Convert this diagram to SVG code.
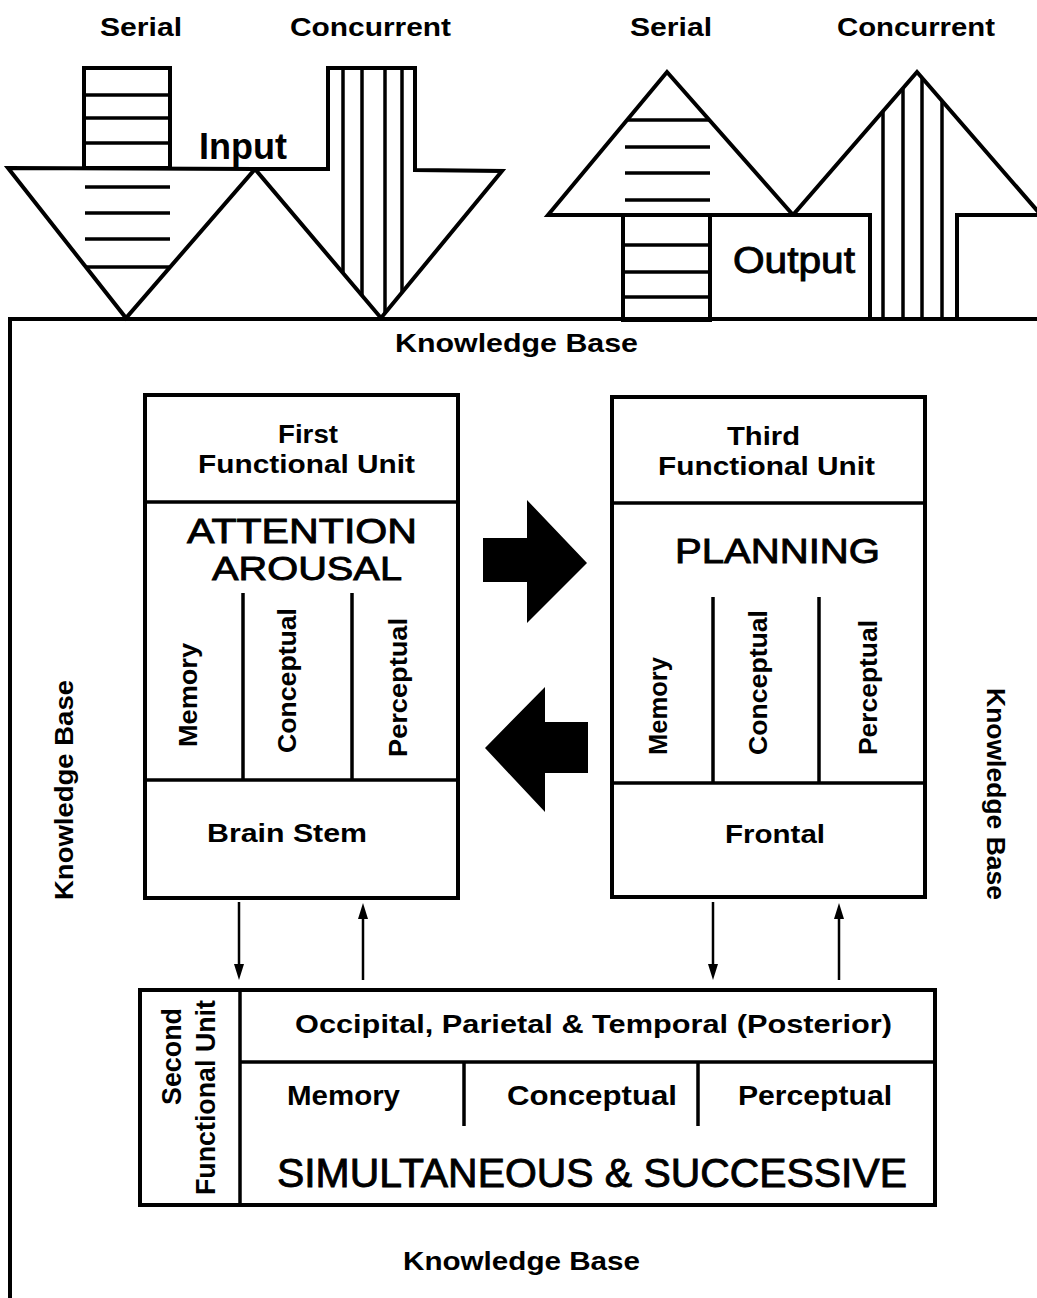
<svg xmlns="http://www.w3.org/2000/svg" width="1037" height="1298" viewBox="0 0 1037 1298">
<style>
.o{fill:none;stroke:#000;stroke-width:4;stroke-linejoin:miter}
.l{stroke:#000;stroke-width:3.5;fill:none}
.c{stroke:#000;stroke-width:2.5;fill:none}
.t{font-family:"Liberation Sans",Arial,sans-serif;fill:#000}
.b{font-weight:bold}
.r{stroke:#000;stroke-width:0.9}
.blk{fill:#000;stroke:none}
</style>
<defs>
<clipPath id="clipIn"><polygon points="328,68 415,68 415,170 502,171 381,318 255,169 328,169"/></clipPath>
<clipPath id="clipOut"><polygon points="870,320 870,215 793,215 917,72 1041,215 957,215 957,320"/></clipPath>
<marker id="ah" markerUnits="userSpaceOnUse" markerWidth="16" markerHeight="10" refX="6" refY="5" orient="auto">
<path d="M0,0 L16,5 L0,10 z" fill="#000"/>
</marker>
</defs>
<rect width="1037" height="1298" fill="#fff"/>

<g id="labels-top">
<text class="t b" x="100" y="36" font-size="25" textLength="82" lengthAdjust="spacingAndGlyphs">Serial</text>
<text class="t b" x="290" y="36" font-size="25" textLength="161" lengthAdjust="spacingAndGlyphs">Concurrent</text>
<text class="t b" x="630" y="36" font-size="25" textLength="82" lengthAdjust="spacingAndGlyphs">Serial</text>
<text class="t b" x="837" y="36" font-size="25" textLength="158" lengthAdjust="spacingAndGlyphs">Concurrent</text>
</g>

<g id="input-serial">
<polygon class="o" points="8,168 255,169 126,318"/>
<rect class="o" x="84" y="68" width="86" height="100"/>
<line class="l" x1="84" y1="95" x2="170" y2="95"/>
<line class="l" x1="84" y1="118" x2="170" y2="118"/>
<line class="l" x1="84" y1="143" x2="170" y2="143"/>
<line class="l" x1="85" y1="187" x2="170" y2="187"/>
<line class="l" x1="85" y1="213" x2="170" y2="213"/>
<line class="l" x1="85" y1="239" x2="170" y2="239"/>
<line class="l" x1="87" y1="267" x2="170" y2="267"/>
</g>

<g id="input-concurrent">
<g clip-path="url(#clipIn)">
<line class="l" x1="343" y1="60" x2="343" y2="330"/>
<line class="l" x1="362" y1="60" x2="362" y2="330"/>
<line class="l" x1="385" y1="60" x2="385" y2="330"/>
<line class="l" x1="402" y1="60" x2="402" y2="330"/>
</g>
<polygon class="o" points="328,68 415,68 415,170 502,171 381,318 255,169 328,169"/>
</g>
<text class="t b" x="199" y="159" font-size="36" textLength="88" lengthAdjust="spacingAndGlyphs">Input</text>

<g id="output-serial">
<polygon class="o" points="548,215 667,72 793,215"/>
<rect class="o" x="623" y="215" width="87" height="105"/>
<line class="l" x1="623" y1="245" x2="710" y2="245"/>
<line class="l" x1="623" y1="272" x2="710" y2="272"/>
<line class="l" x1="623" y1="297" x2="710" y2="297"/>
<line class="l" x1="627" y1="120" x2="709" y2="120"/>
<line class="l" x1="625" y1="147" x2="710" y2="147"/>
<line class="l" x1="625" y1="173" x2="710" y2="173"/>
<line class="l" x1="625" y1="200" x2="710" y2="200"/>
</g>

<g id="output-concurrent">
<g clip-path="url(#clipOut)">
<line class="l" x1="883" y1="60" x2="883" y2="330"/>
<line class="l" x1="903" y1="60" x2="903" y2="330"/>
<line class="l" x1="922" y1="60" x2="922" y2="330"/>
<line class="l" x1="942" y1="60" x2="942" y2="330"/>
</g>
<polyline class="o" points="870,320 870,215 793,215 917,72 1041,215 957,215 957,320"/>
</g>
<text class="t r" x="733" y="273" font-size="36" textLength="122" lengthAdjust="spacingAndGlyphs">Output</text>

<g id="knowledge-base">
<polyline class="o" points="10,1298 10,319 1037,319" stroke-width="5"/>
<text class="t b" x="395" y="352" font-size="25" textLength="243" lengthAdjust="spacingAndGlyphs">Knowledge Base</text>
<text class="t b" x="403" y="1270" font-size="25" textLength="237" lengthAdjust="spacingAndGlyphs">Knowledge Base</text>
<text class="t b" transform="translate(73,900) rotate(-90)" font-size="25" textLength="220" lengthAdjust="spacingAndGlyphs">Knowledge Base</text>
<text class="t b" transform="translate(987,688) rotate(90)" font-size="25" textLength="212" lengthAdjust="spacingAndGlyphs">Knowledge Base</text>
</g>

<g id="first-unit">
<rect class="o" x="145" y="395" width="313" height="503"/>
<line class="l" x1="145" y1="502" x2="458" y2="502"/>
<line class="l" x1="145" y1="780" x2="458" y2="780"/>
<line class="l" x1="243" y1="593" x2="243" y2="780"/>
<line class="l" x1="352" y1="593" x2="352" y2="780"/>
<text class="t b" x="278" y="443" font-size="26" textLength="60" lengthAdjust="spacingAndGlyphs">First</text>
<text class="t b" x="198" y="473" font-size="26" textLength="217" lengthAdjust="spacingAndGlyphs">Functional Unit</text>
<text class="t r" x="187" y="543" font-size="35" textLength="230" lengthAdjust="spacingAndGlyphs">ATTENTION</text>
<text class="t r" x="212" y="580" font-size="34" textLength="190" lengthAdjust="spacingAndGlyphs">AROUSAL</text>
<text class="t b" transform="translate(197,747) rotate(-90)" font-size="26" textLength="104" lengthAdjust="spacingAndGlyphs">Memory</text>
<text class="t b" transform="translate(296,753) rotate(-90)" font-size="26" textLength="145" lengthAdjust="spacingAndGlyphs">Conceptual</text>
<text class="t b" transform="translate(407,757) rotate(-90)" font-size="26" textLength="139" lengthAdjust="spacingAndGlyphs">Perceptual</text>
<text class="t b" x="207" y="842" font-size="26" textLength="160" lengthAdjust="spacingAndGlyphs">Brain Stem</text>
</g>

<g id="third-unit">
<rect class="o" x="612" y="397" width="313" height="500"/>
<line class="l" x1="612" y1="503" x2="925" y2="503"/>
<line class="l" x1="612" y1="783" x2="925" y2="783"/>
<line class="l" x1="713" y1="597" x2="713" y2="783"/>
<line class="l" x1="819" y1="597" x2="819" y2="783"/>
<text class="t b" x="727" y="445" font-size="26" textLength="73" lengthAdjust="spacingAndGlyphs">Third</text>
<text class="t b" x="658" y="475" font-size="26" textLength="217" lengthAdjust="spacingAndGlyphs">Functional Unit</text>
<text class="t r" x="675" y="563" font-size="35" textLength="205" lengthAdjust="spacingAndGlyphs">PLANNING</text>
<text class="t b" transform="translate(667,755) rotate(-90)" font-size="26" textLength="98" lengthAdjust="spacingAndGlyphs">Memory</text>
<text class="t b" transform="translate(767,755) rotate(-90)" font-size="26" textLength="145" lengthAdjust="spacingAndGlyphs">Conceptual</text>
<text class="t b" transform="translate(877,755) rotate(-90)" font-size="26" textLength="135" lengthAdjust="spacingAndGlyphs">Perceptual</text>
<text class="t b" x="725" y="843" font-size="26" textLength="100" lengthAdjust="spacingAndGlyphs">Frontal</text>
</g>

<g id="second-unit">
<rect class="o" x="140" y="990" width="795" height="215"/>
<line class="l" x1="240" y1="990" x2="240" y2="1205"/>
<line class="l" x1="240" y1="1062" x2="935" y2="1062"/>
<line class="l" x1="464" y1="1062" x2="464" y2="1126"/>
<line class="l" x1="698" y1="1062" x2="698" y2="1126"/>
<text class="t b" transform="translate(181,1105) rotate(-90)" font-size="27" textLength="97" lengthAdjust="spacingAndGlyphs">Second</text>
<text class="t b" transform="translate(215,1195) rotate(-90)" font-size="27" textLength="195" lengthAdjust="spacingAndGlyphs">Functional Unit</text>
<text class="t b" x="295" y="1033" font-size="25" textLength="597" lengthAdjust="spacingAndGlyphs">Occipital, Parietal &amp; Temporal (Posterior)</text>
<text class="t b" x="287" y="1105" font-size="27" textLength="113" lengthAdjust="spacingAndGlyphs">Memory</text>
<text class="t b" x="507" y="1105" font-size="27" textLength="170" lengthAdjust="spacingAndGlyphs">Conceptual</text>
<text class="t b" x="738" y="1105" font-size="27" textLength="154" lengthAdjust="spacingAndGlyphs">Perceptual</text>
<text class="t r" x="277" y="1187" font-size="40" textLength="630" lengthAdjust="spacingAndGlyphs">SIMULTANEOUS &amp; SUCCESSIVE</text>
</g>

<g id="connectors">
<polygon class="blk" points="483,538 527,538 527,500 587,563 527,623 527,582 483,582"/>
<polygon class="blk" points="485,748 545,687 545,722 588,722 588,773 545,773 545,812"/>
<line class="c" x1="239" y1="902" x2="239" y2="970" marker-end="url(#ah)"/>
<line class="c" x1="363" y1="980" x2="363" y2="913" marker-end="url(#ah)"/>
<line class="c" x1="713" y1="902" x2="713" y2="970" marker-end="url(#ah)"/>
<line class="c" x1="839" y1="980" x2="839" y2="913" marker-end="url(#ah)"/>
</g>
</svg>
